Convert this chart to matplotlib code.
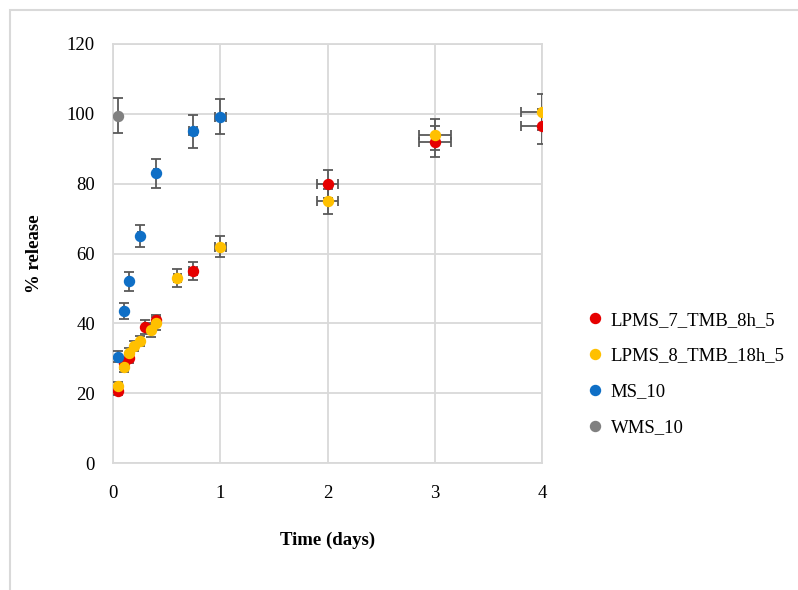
import matplotlib.pyplot as plt
from matplotlib.patches import Rectangle

# release data (time in days, % release)
red_x = [0.05, 0.1, 0.15, 0.3, 0.4, 0.75, 2, 3, 4]
red_y = [20.5, 28.5, 30, 39, 41, 55, 80, 92, 96.5]
red_yerr = [1, 1.5, 1.5, 2, 1.5, 2.7, 4, 4.5, 5]
red_xerr = [0.0025, 0.005, 0.0075, 0.015, 0.02, 0.0375, 0.1, 0.15, 0.2]

yel_x = [0.05, 0.1, 0.15, 0.2, 0.25, 0.35, 0.4, 0.6, 1, 2, 3, 4]
yel_y = [22, 27.5, 31.5, 33.5, 35, 38, 40, 53, 62, 75, 94, 100.5]
yel_yerr = [1.2, 1.5, 1.5, 1.5, 1.5, 2, 1.8, 2.7, 3.1, 3.6, 4.5, 5.2]
yel_xerr = [0.0025, 0.005, 0.0075, 0.01, 0.0125, 0.0175, 0.02, 0.03, 0.05, 0.1, 0.15, 0.2]

blue_x = [0.05, 0.1, 0.15, 0.25, 0.4, 0.75, 1]
blue_y = [30.5, 43.5, 52, 65, 83, 95, 99.2]
blue_yerr = [1.5, 2.3, 2.7, 3.2, 4.2, 4.7, 5]
blue_xerr = [0.0025, 0.005, 0.0075, 0.0125, 0.02, 0.0375, 0.05]

gray_x = [0.05]
gray_y = [99.4]
gray_yerr = [5]
gray_xerr = [0.0025]

labels = ['LPMS_7_TMB_8h_5', 'LPMS_8_TMB_18h_5', 'MS_10', 'WMS_10']
colors = ['#E60000', '#FFC000', '#0F6FC6', '#808080']

plt.rcParams['font.family'] = ['Liberation Serif', 'DejaVu Serif']

fig = plt.figure(figsize=(7.98, 5.90), dpi=100)
ax = fig.add_axes([113 / 798, 1 - 463 / 590, (542 - 113) / 798, (463 - 44) / 590])

# light frame around the chart area (runs off the right and bottom edges)
fig.patches.append(Rectangle((10 / 798, -0.1), 1.2, 1 - 10 / 590 + 0.1,
                             transform=fig.transFigure, fill=False,
                             edgecolor='#D9D9D9', linewidth=1.5))

series = [(red_x, red_y, red_xerr, red_yerr),
          (yel_x, yel_y, yel_xerr, yel_yerr),
          (blue_x, blue_y, blue_xerr, blue_yerr),
          (gray_x, gray_y, gray_xerr, gray_yerr)]

handles = []
for (x, y, xe, ye), c, lab in zip(series, colors, labels):
    ax.errorbar(x, y, xerr=xe, yerr=ye, fmt='none', ecolor='#595959',
                elinewidth=1.3, capsize=3.5, capthick=1.3, zorder=3)
    h, = ax.plot(x, y, 'o', color=c, markersize=7.2, linestyle='none',
                 zorder=4, label=lab)
    handles.append(h)

ax.set_xlim(0, 4)
ax.set_ylim(0, 120)
ax.set_xticks([0, 1, 2, 3, 4])
ax.set_yticks(range(0, 121, 20))
ax.grid(True, color='#D9D9D9', linewidth=1.3)
ax.set_axisbelow(True)
for s in ax.spines.values():
    s.set_color('#D9D9D9')
    s.set_linewidth(1.3)
ax.tick_params(length=0, labelsize=13.5)
ax.tick_params(axis='x', pad=16)
ax.tick_params(axis='y', pad=13)

ax.set_xlabel('Time (days)', fontsize=13.5, fontweight='bold', labelpad=21)
ax.set_ylabel('% release', fontsize=13.5, fontweight='bold', labelpad=17)

fig.legend(handles=handles, labels=labels, loc='center left',
           bbox_to_anchor=(578 / 798, 1 - 374 / 590), frameon=False,
           fontsize=13.5, handlelength=0.8, handletextpad=0.45,
           labelspacing=1.0, borderpad=0)

fig.savefig('out.png', dpi=100)
